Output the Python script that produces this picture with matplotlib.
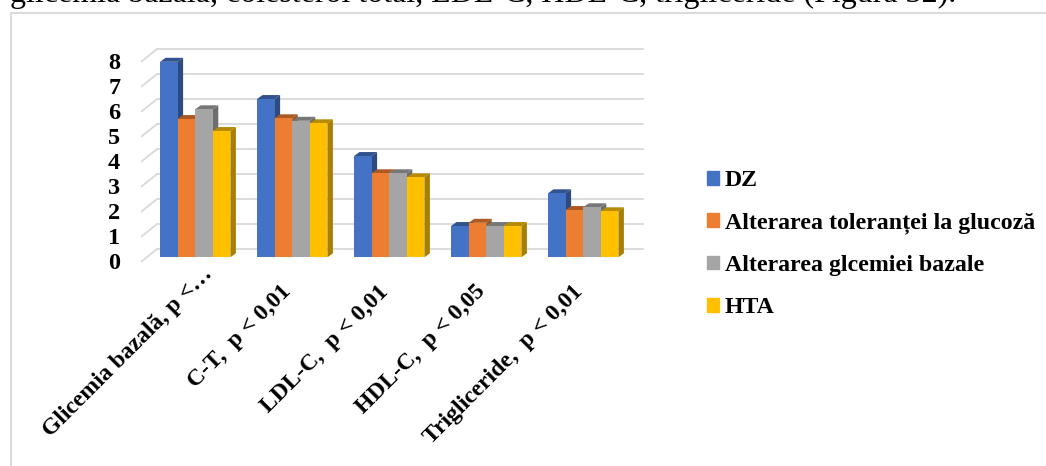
import numpy as np
import matplotlib
matplotlib.use('Agg')
import matplotlib.pyplot as plt
from matplotlib.patches import Patch
from matplotlib.colors import to_rgb
from matplotlib.transforms import ScaledTranslation

plt.rcParams['font.family'] = ['Liberation Serif', 'DejaVu Serif']
plt.rcParams['font.weight'] = 'bold'

categories = ['Glicemia bazală, p <…', 'C-T,  p < 0,01', 'LDL-C,  p < 0,01',
              'HDL-C,  p < 0,05', 'Trigliceride,  p < 0,01']
dz = [7.82, 6.33, 4.05, 1.25, 2.56]
atg = [5.53, 5.56, 3.36, 1.38, 1.89]
agb = [5.92, 5.46, 3.36, 1.25, 2.00]
hta = [5.05, 5.36, 3.20, 1.25, 1.84]
series_names = ['DZ', 'Alterarea toleranței la glucoză', 'Alterarea glcemiei bazale', 'HTA']
colors = ['#4472C4', '#ED7D31', '#A5A5A5', '#FFC000']
y_ticks = list(range(9))
top_text = 'glicemia bazală, colesterol total, LDL-C, HDL-C, trigliceride (Figura 32).'

W, H = 1046, 466
fig = plt.figure(figsize=(W / 100, H / 100), dpi=100)

# axes box in pixels, chosen so y=0 sits on the bars' base and each unit is 25 px
# the box runs one unit below zero so the 0 tick label (set a little lower) survives
px_unit = 25.0
base_y = 257.3
group_step = 97.0
left_px = 195.2 - group_step * 0.5
ax = fig.add_axes([left_px / W, (H - base_y - px_unit) / H, group_step * 5 / W, 9 * px_unit / H])
ax.patch.set_alpha(0)
for s in ax.spines.values():
    s.set_visible(False)

# helpers: pixel offsets to data units
ux = 1 / group_step
uy = 1 / px_unit
bar_w = 17.6 * ux
depth_x, depth_y = 5.5 * ux, 4 * uy
grid_c = '#D9D9D9'


def shade(c, k):
    return tuple(v * k for v in to_rgb(c))


# back wall grid and the slanted left side
wall_x0 = -0.5 + (156.7 - left_px) * ux
wall_x1 = -0.5 + (643.3 - left_px) * ux
side_dx = 15 * ux
for v in y_ticks:
    yb = v + 8 * uy
    ax.plot([wall_x0, wall_x1], [yb, yb], color=grid_c, lw=1.3, zorder=1, clip_on=False)
    ax.plot([wall_x0, wall_x0 - side_dx], [yb, yb - 12 * uy], color=grid_c, lw=1.3, zorder=1, clip_on=False)

# bars with a fake 3d side and top
all_series = [dz, atg, agb, hta]
for i, vals in enumerate(all_series):
    xs = np.arange(5) + (i - 1.5) * bar_w
    z = 3 + i
    for x, v in zip(xs, vals):
        xl, xr = x - bar_w / 2, x + bar_w / 2
        ax.fill([xl, xr, xr + depth_x, xl + depth_x], [v, v, v + depth_y, v + depth_y],
                color=shade(colors[i], 0.72), lw=0, zorder=z, clip_on=False)
        ax.fill([xr, xr + depth_x, xr + depth_x, xr], [0, depth_y, v + depth_y, v],
                color=shade(colors[i], 0.66), lw=0, zorder=z, clip_on=False)
    ax.bar(xs, vals, width=bar_w, color=colors[i], zorder=z + 0.5, clip_on=False)

# tick labels stand on the front edge of the side wall, a little below the bars
ax.set_yticks(np.array(y_ticks) - 4 * uy, [str(v) for v in y_ticks])
ax.tick_params(axis='y', length=0, labelsize=17.5, pad=19)
ax.set_xticks(range(5), categories)
# pad counts from the lower edge of the box, one unit under the bars' base
ax.tick_params(axis='x', length=0, labelsize=17, pad=4.5)
ax.set_xlim(-0.5, 4.5)
ax.set_ylim(-1, 8)

# first label is cut short further along the slant than the others
label_shift = [(14, 18), (-4, 0), (-4, 0), (-4, 0), (-4, 0)]
for lab, (dx, dy) in zip(ax.get_xticklabels(), label_shift):
    lab.set_rotation(45)
    lab.set_ha('right')
    lab.set_va('center')
    lab.set_rotation_mode('anchor')
    lab.set_transform(lab.get_transform() + ScaledTranslation(dx / 100, dy / 100, fig.dpi_scale_trans))

handles = [Patch(color=c, label=n) for c, n in zip(colors, series_names)]
fig.legend(handles=handles, loc='upper left', bbox_to_anchor=(707 / W, 1 - 170.5 / H),
           frameon=False, fontsize=17.2, handlelength=0.5, handleheight=0.5,
           handletextpad=0.25, labelspacing=0.88, borderpad=0, borderaxespad=0)

# frame of the embedded chart, open at the bottom and on the right
fig.add_artist(plt.Line2D([10.5 / W, 10.5 / W, 1], [0, 1 - 13 / H, 1 - 13 / H],
                          color=grid_c, lw=1.4))
# line of body text cut off by the top edge
fig.text(10 / W, 1 - 2 / H, top_text, fontsize=23, fontweight='normal', ha='left', va='baseline')

fig.savefig('out.png', dpi=100)
